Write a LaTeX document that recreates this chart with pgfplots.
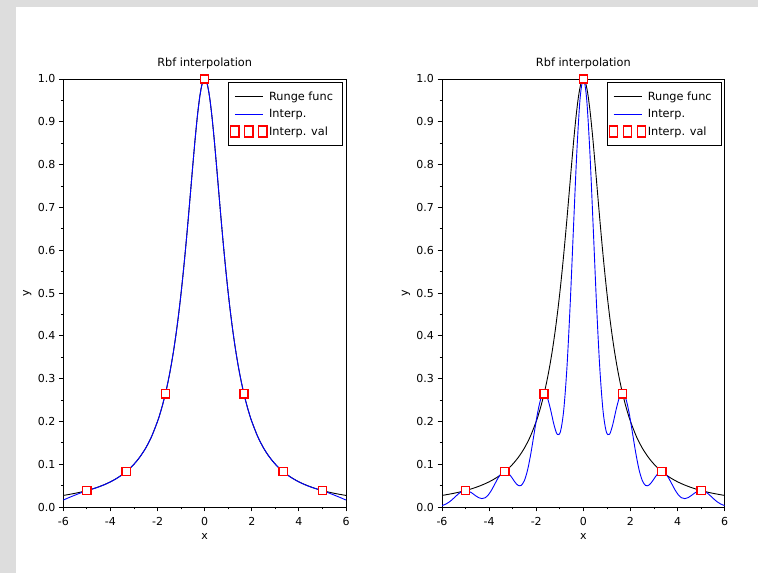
\documentclass[border=0pt]{standalone}
\usepackage{pgfplots}
\pgfplotsset{compat=1.18}
\usepackage{pgfplotstable}
\usepackage{fontspec}
\setmainfont{DejaVu Sans}
\definecolor{bggrey}{RGB}{221,221,221}
\definecolor{pureblue}{RGB}{0,0,255}
\definecolor{purered}{RGB}{255,0,0}

\pgfplotstableread{
x y
-6 0.0270
-5.75 0.0294
-5.5 0.0320
-5.25 0.0350
-5 0.0385
-4.75 0.0424
-4.5 0.0471
-4.25 0.0525
-4 0.0588
-3.75 0.0664
-3.5 0.0755
-3.25 0.0865
-3 0.1000
-2.75 0.1168
-2.5 0.1379
-2.25 0.1649
-2 0.2000
-1.9 0.2169
-1.8 0.2358
-1.7 0.2571
-1.6 0.2809
-1.5 0.3077
-1.4 0.3378
-1.3 0.3717
-1.2 0.4098
-1.1 0.4525
-1.0 0.5000
-0.9 0.5525
-0.8 0.6098
-0.7 0.6711
-0.6 0.7353
-0.5 0.8000
-0.4 0.8621
-0.3 0.9174
-0.2 0.9615
-0.1 0.9901
0 1.0000
0.1 0.9901
0.2 0.9615
0.3 0.9174
0.4 0.8621
0.5 0.8000
0.6 0.7353
0.7 0.6711
0.8 0.6098
0.9 0.5525
1.0 0.5000
1.1 0.4525
1.2 0.4098
1.3 0.3717
1.4 0.3378
1.5 0.3077
1.6 0.2809
1.7 0.2571
1.8 0.2358
1.9 0.2169
2 0.2000
2.25 0.1649
2.5 0.1379
2.75 0.1168
3 0.1000
3.25 0.0865
3.5 0.0755
3.75 0.0664
4 0.0588
4.25 0.0525
4.5 0.0471
4.75 0.0424
5 0.0385
5.25 0.0350
5.5 0.0320
5.75 0.0294
6 0.0270
}\runge

\pgfplotstableread{
x y
-6 0.0162
-5.75 0.0222
-5.5 0.0278
-5.25 0.0332
-5 0.0385
-4.75 0.0422
-4.5 0.0468
-4.25 0.0522
-4 0.0586
-3.75 0.0663
-3.5 0.0754
-3.25 0.0864
-3 0.1000
-2.75 0.1168
-2.5 0.1379
-2.25 0.1649
-2 0.2000
-1.9 0.2169
-1.8 0.2358
-1.7 0.2571
-1.6 0.2809
-1.5 0.3077
-1.4 0.3378
-1.3 0.3717
-1.2 0.4098
-1.1 0.4525
-1.0 0.5000
-0.9 0.5525
-0.8 0.6098
-0.7 0.6711
-0.6 0.7353
-0.5 0.8000
-0.4 0.8621
-0.3 0.9174
-0.2 0.9615
-0.1 0.9901
0 1.0000
0.1 0.9901
0.2 0.9615
0.3 0.9174
0.4 0.8621
0.5 0.8000
0.6 0.7353
0.7 0.6711
0.8 0.6098
0.9 0.5525
1.0 0.5000
1.1 0.4525
1.2 0.4098
1.3 0.3717
1.4 0.3378
1.5 0.3077
1.6 0.2809
1.7 0.2571
1.8 0.2358
1.9 0.2169
2 0.2000
2.25 0.1649
2.5 0.1379
2.75 0.1168
3 0.1000
3.25 0.0864
3.5 0.0754
3.75 0.0663
4 0.0586
4.25 0.0522
4.5 0.0468
4.75 0.0422
5 0.0385
5.25 0.0332
5.5 0.0278
5.75 0.0222
6 0.0162
}\interpA

\pgfplotstableread{
x y
-6.0 0.0032
-5.8333 0.0069
-5.6944 0.0116
-5.5556 0.0179
-5.4167 0.0250
-5.2778 0.0318
-5.1389 0.0367
-5.0 0.0385
-4.8611 0.0369
-4.7222 0.0325
-4.5833 0.0267
-4.4444 0.0218
-4.3056 0.0196
-4.1667 0.0216
-4.0278 0.0287
-3.8889 0.0402
-3.75 0.0545
-3.6111 0.0685
-3.4722 0.0789
-3.3333 0.0829
-3.1944 0.0795
-3.0556 0.0704
-2.9167 0.0592
-2.7778 0.0508
-2.6389 0.0504
-2.5 0.0621
-2.3611 0.0880
-2.2222 0.1270
-2.0833 0.1738
-1.9444 0.2194
-1.8056 0.2529
-1.6667 0.2658
-1.5278 0.2554
-1.3889 0.2270
-1.25 0.1929
-1.1111 0.1699
-0.9722 0.1760
-0.8333 0.2260
-0.6944 0.3278
-0.5556 0.4775
-0.4167 0.6557
-0.2778 0.8281
-0.1389 0.9542
0 1.0000
0.1389 0.9542
0.2778 0.8281
0.4167 0.6557
0.5556 0.4775
0.6944 0.3278
0.8333 0.2260
0.9722 0.1760
1.1111 0.1699
1.25 0.1929
1.3889 0.2270
1.5278 0.2554
1.6667 0.2658
1.8056 0.2529
1.9444 0.2194
2.0833 0.1738
2.2222 0.1270
2.3611 0.0880
2.5 0.0621
2.6389 0.0504
2.7778 0.0508
2.9167 0.0592
3.0556 0.0704
3.1944 0.0795
3.3333 0.0829
3.4722 0.0789
3.6111 0.0685
3.75 0.0545
3.8889 0.0402
4.0278 0.0287
4.1667 0.0216
4.3056 0.0196
4.4444 0.0218
4.5833 0.0267
4.7222 0.0325
4.8611 0.0369
5.0 0.0385
5.1389 0.0367
5.2778 0.0318
5.4167 0.0250
5.5556 0.0179
5.6944 0.0116
5.8333 0.0069
6.0 0.0032
}\interpB

\pgfplotstableread{
x y
-5 0.0385
-3.3333 0.0826
-1.6667 0.2647
0 1.0000
1.6667 0.2647
3.3333 0.0826
5 0.0385
}\nodesval

\tikzset{
  redsq/.style={draw=purered, fill=white, line width=1.4pt, minimum size=8.2pt, inner sep=0pt, outer sep=0pt, shape=rectangle, anchor=center},
}

\pgfplotsset{
  rbfaxis/.style={
    scale only axis, width=282.7pt, height=428pt,
    xmin=-6, xmax=6, ymin=0, ymax=1,
    xtick={-6,-4,-2,0,2,4,6}, minor x tick num=1,
    ytick={0,0.1,0.2,0.3,0.4,0.5,0.6,0.7,0.8,0.9,1.0}, minor y tick num=1,
    tick align=outside, xtick pos=bottom, ytick pos=left,
    major tick length=4.5pt, minor tick length=2.5pt,
    every tick/.style={black, line width=0.8pt},
    axis line style={line width=0.9pt},
    tick label style={font=\fontsize{11}{13}\selectfont},
    xticklabel style={yshift=-2.5pt},
    /pgf/number format/assume math mode=true,
    yticklabel style={/pgf/number format/.cd, fixed, fixed zerofill, precision=1},
    title={Rbf interpolation},
    title style={at={(0.5,1)}, anchor=base, yshift=6pt, inner sep=0pt, font=\fontsize{11.3}{13}\selectfont},
    xlabel={x}, ylabel={y},
    every axis x label/.style={at={(axis description cs:0.5,0)}, anchor=base, yshift=-32pt, inner sep=0pt, font=\fontsize{11}{13}\selectfont},
    every axis y label/.style={at={(axis description cs:0,0.5)}, xshift=-36pt, rotate=90, anchor=center, inner sep=0pt, font=\fontsize{11}{13}\selectfont},
    legend style={at={(axis description cs:1,1)}, anchor=north east, xshift=-3pt, yshift=-3pt,
      draw=black, line width=1pt, fill=white, font=\fontsize{11.3}{13}\selectfont,
      inner xsep=1pt, inner ysep=7pt, row sep=3.5pt,
      nodes={inner sep=1.5pt, text height=9.5pt, text depth=1.5pt}},
    legend cell align=left,
  },
  runge/.style={black, line width=0.9pt, smooth,
    legend image code/.code={\draw[black, line width=0.9pt] (0pt,0pt) -- (28pt,0pt);}},
  interp/.style={pureblue, line width=0.9pt, smooth,
    legend image code/.code={\draw[pureblue, line width=0.9pt] (0pt,0pt) -- (28pt,0pt);}},
  ival/.style={only marks, mark=none, point meta=y,
    nodes near coords={}, nodes near coords align=center,
    every node near coord/.style={redsq},
    legend image code/.code={
      \node[redsq] at (0pt,0pt) {};
      \node[redsq] at (14pt,0pt) {};
      \node[redsq] at (28pt,0pt) {};}},
}

\begin{document}
\begin{tikzpicture}[x=1pt,y=1pt]
\useasboundingbox (0,0) rectangle (758,573);
\fill[bggrey] (0,0) rectangle (758,573);
\fill[white] (16,0) rectangle (758,566);

\begin{axis}[rbfaxis, at={(63.3pt,66pt)}, anchor=south west]
\addplot[runge] table {\runge};
\addlegendentry{Runge func\hspace*{7pt}}
\addplot[interp] table {\interpA};
\addlegendentry{Interp.}
\addplot[ival] table {\nodesval};
\addlegendentry{Interp. val}
\end{axis}

\begin{axis}[rbfaxis, at={(442pt,66pt)}, anchor=south west]
\addplot[runge] table {\runge};
\addlegendentry{Runge func\hspace*{7pt}}
\addplot[interp] table {\interpB};
\addlegendentry{Interp.}
\addplot[ival] table {\nodesval};
\addlegendentry{Interp. val}
\end{axis}
\end{tikzpicture}
\end{document}
